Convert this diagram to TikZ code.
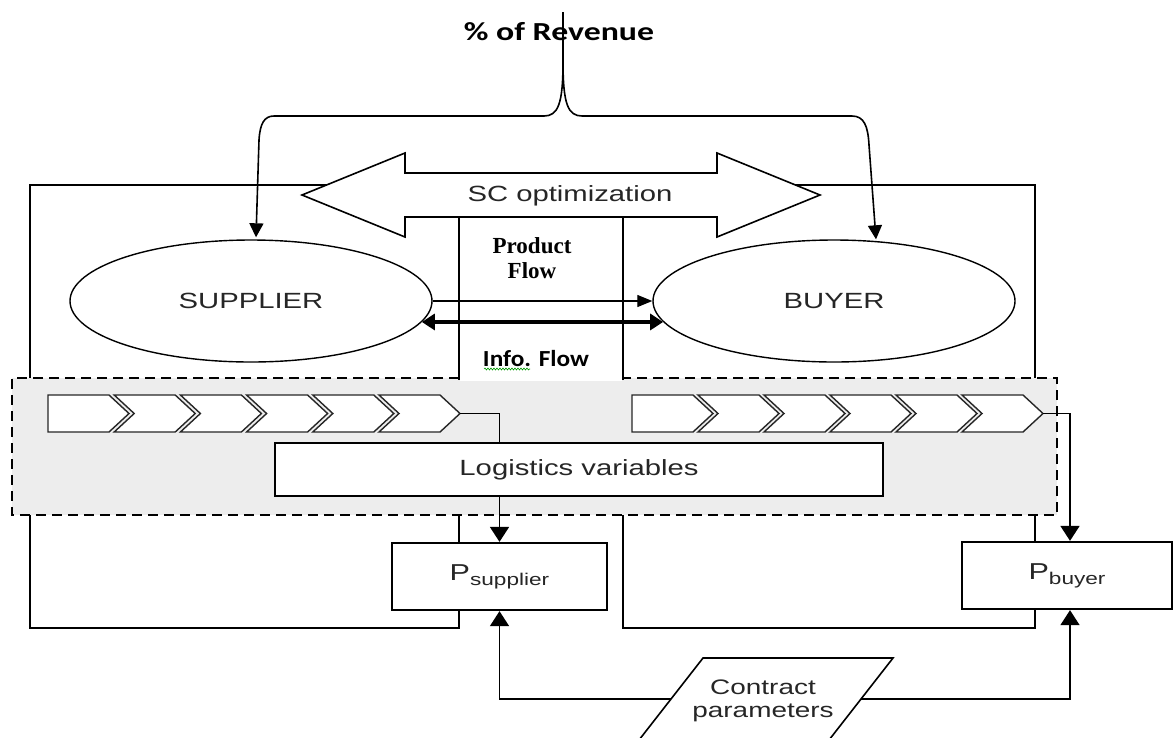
\documentclass[tikz,border=0pt]{standalone}
\usepackage{fontspec}
\setmainfont{Liberation Sans}
\newfontfamily\arw{Liberation Sans}[FakeStretch=1.33]
\newfontfamily\calw{Carlito}[FakeStretch=1.3]
\newfontfamily\cali{Carlito}[FakeStretch=1.1]
\newfontfamily\tms{Liberation Serif}
\usetikzlibrary{arrows.meta,decorations.pathmorphing,shapes.geometric}
\begin{document}
\begin{tikzpicture}[x=1pt,y=-1pt,
  frame/.style={line width=2.3pt},
  dframe/.style={line width=2.3pt, dash pattern=on 10pt off 6pt},
  box/.style={draw, line width=2.3pt, fill=white, inner sep=0pt, text=black!85},
  ell/.style={ellipse, draw, line width=1.4pt, fill=white, inner sep=0pt, minimum width=362pt, minimum height=122pt, text=black!85, font=\arw\fontsize{22}{22}\selectfont},
  chev/.style={draw=black!85, fill=white, line width=1.4pt, line join=miter},
  conn/.style={line width=1.8pt},
  tipP/.style={-{Triangle[length=15pt,width=19pt]}},
  sans/.style={text=black!85, inner sep=0pt}
]
\useasboundingbox (0,0) rectangle (1174,737);
\clip (0,0) rectangle (1174,737);

% system boxes
\draw[frame] (30,185) rectangle (459,628);
\draw[frame] (623,185) rectangle (1035,628);

% grey dashed logistics region
\fill[gray!14] (12,378) rectangle (1057,515);
\draw[dframe] (459,378) -- (12,378) -- (12,515) -- (1057,515) -- (1057,378) -- (623,378);
\fill[white] (460,216) rectangle (622,381);
\draw[frame] (459,216) -- (459,380);
\draw[frame] (623,216) -- (623,380);

% SC optimization double arrow
\draw[line width=1.6pt, fill=white, line join=miter] (302,195) -- (405,153) -- (405,173) -- (717,173) -- (717,153) -- (820,195) -- (717,237) -- (717,217) -- (405,217) -- (405,237) -- cycle;
\node[sans, anchor=base, font=\arw\fontsize{22}{22}\selectfont] (scopt) at (570,201) {SC optimization};

% supplier and buyer
\node[ell] (sup) at (251,301) {SUPPLIER};
\node[ell] (buy) at (834,301) {BUYER};

% flows
\draw[line width=1.2pt, -{Triangle[length=15pt,width=12pt]}] (sup.east) -- (buy.west);
\draw[line width=4pt, {Triangle[length=13pt,width=16pt]}-{Triangle[length=13pt,width=16pt]}] (sup.-7) -- (buy.187);
\node[anchor=north, align=center, inner sep=0pt, font=\tms\bfseries\fontsize{23}{25}\selectfont] (pflow) at (532,237) {Product\\Flow};
\node[anchor=base, inner sep=0pt, font=\cali\bfseries\fontsize{23}{23}\selectfont] (iflow) at (536,366) {Info. Flow};
\draw[green!60!black, line width=0.6pt, decorate, decoration={snake, amplitude=1pt, segment length=3pt}] (484,369) -- (530,369);

% % of Revenue brace
\node[anchor=base, inner sep=0pt, font=\calw\bfseries\fontsize{26}{26}\selectfont] (rev) at (559,40) {\% of Revenue};
\coordinate (cusp) at (563,62);
\draw[line width=1.6pt] (563,12) -- (cusp);
\draw[line width=1.6pt, -{Triangle[length=14pt,width=14pt]}] (cusp) .. controls (563,104) and (558,116) .. (544,116) -- (274,116) .. controls (264,116) and (260,124) .. (259,140) -- ([xshift=5pt,yshift=2pt]sup.north);
\draw[line width=1.6pt, -{Triangle[length=14pt,width=14pt]}] (cusp) .. controls (563,104) and (568,116) .. (582,116) -- (852,116) .. controls (864,116) and (868,126) .. (869,145) -- ([xshift=42pt]buy.north);

% chevrons
\draw[chev] (48,395) -- ++(61,0) -- ++(20,18.5) -- ++(-20,18.5) -- ++(-61,0) -- cycle;
\foreach \i in {1,...,5}{
  \draw[chev] ({48+66.2*\i},395) -- ++(61,0) -- ++(20,18.5) -- ++(-20,18.5) -- ++(-61,0) -- ++(20,-18.5) -- cycle;
}
\draw[chev] (632,395) -- ++(61,0) -- ++(20,18.5) -- ++(-20,18.5) -- ++(-61,0) -- cycle;
\foreach \i in {1,...,5}{
  \draw[chev] ({632+66*\i},395) -- ++(61,0) -- ++(20,18.5) -- ++(-20,18.5) -- ++(-61,0) -- ++(20,-18.5) -- cycle;
}
\coordinate (ltip) at (460,413.5);
\coordinate (rtip) at (1043,413.5);

% logistics variables and P boxes
\node[box, minimum width=608pt, minimum height=53pt, font=\arw\fontsize{22}{22}\selectfont] (log) at (579,469.5) {Logistics variables};
\node[box, minimum width=215pt, minimum height=67pt, font=\arw\fontsize{23}{23}\selectfont] (psup) at (499.5,576.5) {P\raisebox{-5pt}{\fontsize{17}{17}\selectfont supplier}};
\node[box, minimum width=210pt, minimum height=67pt, font=\arw\fontsize{23}{23}\selectfont] (pbuy) at (1067,575.5) {P\raisebox{-5pt}{\fontsize{17}{17}\selectfont buyer}};

\draw[conn] (ltip) -| (log.north -| psup.north);
\draw[conn, tipP] (log.south -| psup.north) -- (psup.north);
\draw[conn, tipP] (rtip) -| ([xshift=3pt]pbuy.north);

% contract parameters
\draw[line width=1.6pt] (623.4,760) -- (703,658) -- (893,658) -- (813.4,760);
\node[anchor=north, align=center, sans, font=\arw\fontsize{21}{23}\selectfont] (contract) at (763,680) {Contract\\parameters};
\coordinate (cl) at (671,699);
\coordinate (cr) at (861,699);
\draw[line width=1.5pt, tipP] (cl) -| (psup.south);
\draw[line width=1.5pt, tipP] (cr) -| ([xshift=3pt]pbuy.south);
\end{tikzpicture}
\end{document}
